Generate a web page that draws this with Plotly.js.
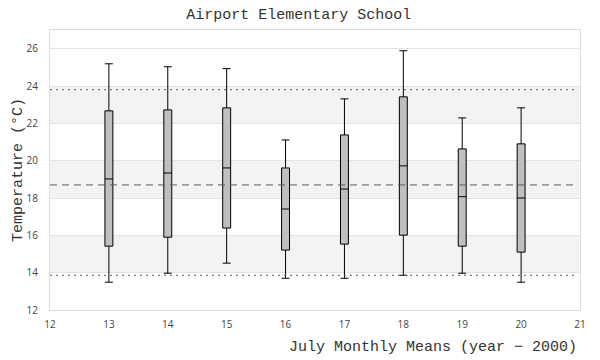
<!DOCTYPE html>
<html>
<head>
<meta charset="utf-8">
<script src="https://cdn.plot.ly/plotly-3.0.1.min.js"></script>
<style>html,body{margin:0;padding:0;background:#fff;}#chart{width:600px;height:360px;}</style>
</head>
<body>
<div id="chart"></div>
<script>
// Data
const years = [13, 14, 15, 16, 17, 18, 19, 20];
const lowerWhisker = [13.49, 13.97, 14.51, 13.70, 13.70, 13.86, 13.97, 13.49];
const q1 = [15.42, 15.90, 16.39, 15.21, 15.53, 16.01, 15.42, 15.10];
const median = [19.02, 19.34, 19.61, 17.41, 18.48, 19.72, 18.07, 18.00];
const q3 = [22.67, 22.72, 22.83, 19.61, 21.38, 23.42, 20.63, 20.90];
const upperWhisker = [25.19, 25.03, 24.93, 21.11, 23.31, 25.89, 22.29, 22.83];

const overallMean = 18.70;
const upperLimit = 23.80;
const lowerLimit = 13.86;

const bandStarts = [14, 18, 22];
const bandEnds = [16, 20, 24];

const titleText = 'Airport Elementary School';
const xTitleText = 'July Monthly Means (year \u2212 2000)';
const yTitleText = 'Temperature (°C)';

const mono = "Liberation Mono, DejaVu Sans Mono, monospace";
const tickFontFamily = "Open Sans, DejaVu Sans, sans-serif";

const trace = {
  type: 'box',
  x: years,
  q1: q1,
  median: median,
  q3: q3,
  lowerfence: lowerWhisker,
  upperfence: upperWhisker,
  width: 0.135,
  whiskerwidth: 1,
  fillcolor: '#bfbfbf',
  line: {color: '#000000', width: 1},
  boxpoints: false,
  hoverinfo: 'skip',
  showlegend: false
};

const shapes = [];
for (let i = 0; i < bandStarts.length; i++) {
  shapes.push({type: 'rect', xref: 'paper', yref: 'y', x0: 0, x1: 1,
    y0: bandStarts[i], y1: bandEnds[i], fillcolor: '#f3f3f3',
    line: {width: 0}, layer: 'below'});
}
shapes.push({type: 'line', xref: 'paper', yref: 'y', x0: 0, x1: 0.995,
  y0: overallMean, y1: overallMean, line: {color: '#5a5a5a', width: 1, dash: '7px,5px'}});
shapes.push({type: 'line', xref: 'paper', yref: 'y', x0: 0, x1: 0.995,
  y0: upperLimit, y1: upperLimit, line: {color: '#5a5a5a', width: 1, dash: '2px,4px'}});
shapes.push({type: 'line', xref: 'paper', yref: 'y', x0: 0, x1: 0.995,
  y0: lowerLimit, y1: lowerLimit, line: {color: '#5a5a5a', width: 1, dash: '2px,4px'}});

const layout = {
  width: 600, height: 360,
  margin: {l: 50, r: 20, t: 30, b: 50},
  paper_bgcolor: '#ffffff',
  plot_bgcolor: 'rgba(0,0,0,0)',
  title: {text: titleText, x: 0.498, xanchor: 'center', y: 0.961, yanchor: 'middle',
    font: {family: mono, size: 15, color: '#333333'}},
  xaxis: {
    range: [12, 21], tickmode: 'linear', tick0: 12, dtick: 1,
    showgrid: false, zeroline: false,
    showline: true, mirror: true, linecolor: '#dddddd', linewidth: 1,
    ticks: '', ticklabelstandoff: 5,
    tickfont: {family: tickFontFamily, size: 10, color: '#444444'},
    fixedrange: true
  },
  yaxis: {
    range: [12, 27], tickmode: 'linear', tick0: 12, dtick: 2,
    showgrid: true, gridcolor: '#e3e3e3', gridwidth: 1, zeroline: false,
    showline: true, mirror: true, linecolor: '#dddddd', linewidth: 1,
    ticks: '', ticklabelstandoff: 9,
    tickfont: {family: tickFontFamily, size: 10, color: '#444444'},
    title: {text: yTitleText, standoff: 0,
      font: {family: mono, size: 15, color: '#333333'}},
    fixedrange: true
  },
  annotations: [{
    text: xTitleText, xref: 'paper', yref: 'paper', x: 1.0, y: 0,
    xanchor: 'right', yanchor: 'middle', yshift: -37, xshift: -1, showarrow: false,
    font: {family: mono, size: 15, color: '#333333'}
  }],
  shapes: shapes
};

Plotly.newPlot('chart', [trace], layout, {displayModeBar: false, staticPlot: true});
</script>
</body>
</html>
